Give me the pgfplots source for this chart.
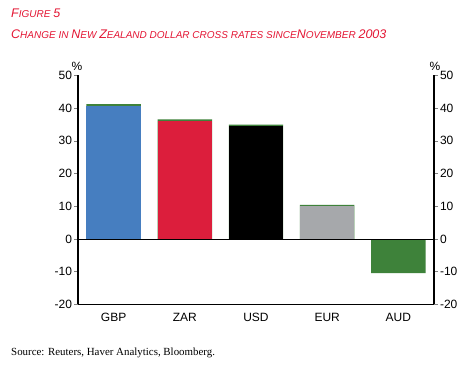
\documentclass[border=0pt]{standalone}
\usepackage{pgfplots}
\pgfplotsset{compat=1.18}
\usepackage{fontspec}
\setmainfont{Liberation Sans}
\newfontfamily\seriffont{Liberation Serif}
\definecolor{titlered}{RGB}{228,22,52}
\definecolor{cgbp}{RGB}{70,126,192}
\definecolor{czar}{RGB}{220,30,60}
\definecolor{cusd}{RGB}{0,0,0}
\definecolor{ceur}{RGB}{166,168,171}
\definecolor{caud}{RGB}{62,130,58}
\newcommand{\bg}[1]{{\fontsize{12.5}{13}\selectfont #1}}
\newcommand{\sm}[1]{{\fontsize{10}{11}\selectfont #1}}
\begin{document}
\begin{tikzpicture}[x=1pt,y=1pt]
\path[use as bounding box, fill=white] (0,0) rectangle (472,368);
\node[anchor=base west, text=titlered, font=\itshape, inner sep=0] at (11,351) {\bg{F}\sm{IGURE} \bg{5}};
\node[anchor=base west, text=titlered, font=\itshape, inner sep=0] at (11,330) {\bg{C}\sm{HANGE IN} \bg{N}\sm{EW} \bg{Z}\sm{EALAND DOLLAR CROSS RATES SINCE}\bg{N}\sm{OVEMBER} \bg{2003}};
\node[anchor=base west, inner sep=0, font=\seriffont\fontsize{10.9}{12}\selectfont] at (11,13) {Source: Reuters, Haver Analytics, Bloomberg.};
\node[font=\fontsize{12}{13}\selectfont, inner sep=0] at (77,302) {\%};
\node[font=\fontsize{12}{13}\selectfont, inner sep=0] at (435,302) {\%};
\begin{axis}[
  at={(113.6pt,129pt)}, anchor=origin, scale only axis,
  width=356pt, height=229pt,
  xmin=-0.5, xmax=4.5, ymin=-20, ymax=50,
  axis x line*=bottom, axis y line*=left,
  axis line style={-, line width=1.2pt},
  ytick={-20,-10,0,10,20,30,40,50},
  xtick={0,1,2,3,4},
  xticklabels={GBP,ZAR,USD,EUR,AUD},
  major x tick style={draw=none},
  extra x ticks={0.5,1.5,2.5,3.5},
  extra x tick labels={},
  extra x tick style={major tick length=4pt, tick style={draw=black, line width=0.6pt}},
  tick align=outside,
  major tick length=4pt,
  y tick style={line width=0.6pt},
  tick label style={font=\fontsize{12}{13}\selectfont},
  /pgf/number format/assume math mode=true,
  yticklabel style={xshift=1.5pt},
  xticklabel style={yshift=-1pt},
  clip=false,
]
\addplot[ybar, bar width=0.765, bar shift=0pt, fill=caud, draw=none] coordinates {(0,41.2) (1,36.6) (2,35.0) (3,10.4) (4,-10.4)};
\addplot[ybar, bar width=0.765, bar shift=0pt, fill=cgbp, draw=none] coordinates {(0,40.75)};
\addplot[ybar, bar width=0.765, bar shift=0pt, fill=czar, draw=none] coordinates {(1,36.15)};
\addplot[ybar, bar width=0.765, bar shift=0pt, fill=cusd, draw=none] coordinates {(2,34.55)};
\addplot[ybar, bar width=0.765, bar shift=0pt, fill=ceur, draw=none] coordinates {(3,9.95)};
\draw[line width=0.7pt] (axis cs:-0.5,0) -- (axis cs:4.5,0);
\end{axis}
\begin{axis}[
  at={(113.6pt,129pt)}, anchor=origin, scale only axis,
  width=356pt, height=229pt,
  xmin=-0.5, xmax=4.5, ymin=-20, ymax=50,
  axis y line*=right, axis x line=none,
  axis line style={-, line width=1.2pt},
  ytick={-20,-10,0,10,20,30,40,50},
  tick align=outside,
  major tick length=4pt,
  y tick style={line width=0.6pt},
  tick label style={font=\fontsize{12}{13}\selectfont},
  /pgf/number format/assume math mode=true,
  yticklabel style={xshift=-1.5pt},
]
\end{axis}
\end{tikzpicture}
\end{document}
